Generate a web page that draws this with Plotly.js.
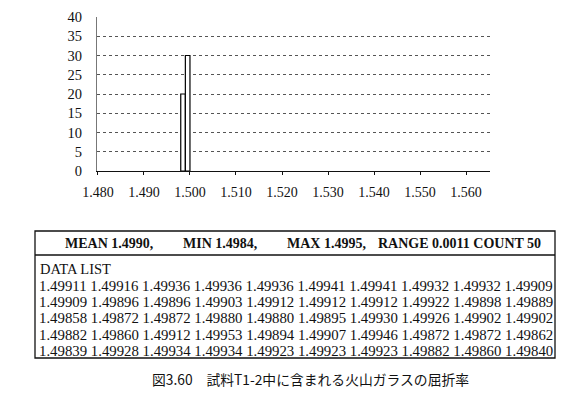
<!DOCTYPE html>
<html>
<head>
<meta charset="utf-8">
<script src="https://cdn.plot.ly/plotly-3.0.1.min.js"></script>
<style>
html,body{margin:0;padding:0;background:#fff;}
#chart{width:567px;height:399px;}
</style>
</head>
<body>
<div id="chart"></div>
<script>
// Histogram bins (bin centres) and counts
const binCenters = [1.4985, 1.4995];
const binCounts = [20, 30];
const binWidth = 0.001;

// Axis ticks
const yTicks = [0, 5, 10, 15, 20, 25, 30, 35, 40];
const xTicks = [1.480, 1.490, 1.500, 1.510, 1.520, 1.530, 1.540, 1.550, 1.560];

// Summary line
const statLabels = ["MEAN 1.4990,", "MIN 1.4984,", "MAX 1.4995,", "RANGE 0.0011 COUNT 50"];

// Data list
const dataList = [
  1.49911, 1.49916, 1.49936, 1.49936, 1.49936, 1.49941, 1.49941, 1.49932, 1.49932, 1.49909,
  1.49909, 1.49896, 1.49896, 1.49903, 1.49912, 1.49912, 1.49912, 1.49922, 1.49898, 1.49889,
  1.49858, 1.49872, 1.49872, 1.49880, 1.49880, 1.49895, 1.49930, 1.49926, 1.49902, 1.49902,
  1.49882, 1.49860, 1.49912, 1.49953, 1.49894, 1.49907, 1.49946, 1.49872, 1.49872, 1.49862,
  1.49839, 1.49928, 1.49934, 1.49934, 1.49923, 1.49923, 1.49923, 1.49882, 1.49860, 1.49840
];

const caption = "図3.60　試料T1-2中に含まれる火山ガラスの屈折率";

const W = 567, H = 399;
const serif = "Liberation Serif";

// helpers: paper coords from pixel coords
const mL = 97, mR = 77, mT = 17, mB = 228;
const pw = W - mL - mR, ph = H - mT - mB;
const px = x => (x - mL) / pw;
const py = y => (H - mB - y) / ph;

const annotations = [];
const shapes = [];

// table box
shapes.push({type: 'rect', xref: 'paper', yref: 'paper', x0: px(35), x1: px(555), y0: py(358), y1: py(231),
  line: {color: '#111', width: 1.3}, fillcolor: 'rgba(0,0,0,0)'});
shapes.push({type: 'line', xref: 'paper', yref: 'paper', x0: px(35), x1: px(555), y0: py(255), y1: py(255),
  line: {color: '#111', width: 1.3}});

// stats header
const statX = [63, 181, 285, 376];
statLabels.forEach((t, i) => {
  annotations.push({text: '<b>' + t + '</b>', xref: 'paper', yref: 'paper', x: px(statX[i]), y: py(243),
    xanchor: 'left', yanchor: 'middle', showarrow: false,
    font: {family: serif, size: 14, color: '#111'}});
});

annotations.push({text: 'DATA LIST', xref: 'paper', yref: 'paper', x: px(38), y: py(269),
  xanchor: 'left', yanchor: 'middle', showarrow: false,
  font: {family: serif, size: 14.5, color: '#111'}});

for (let r = 0; r < 5; r++) {
  const row = dataList.slice(r * 10, r * 10 + 10).map(v => v.toFixed(5)).join(' ');
  annotations.push({text: row, xref: 'paper', yref: 'paper', x: px(37), y: py(286 + r * 16.2),
    xanchor: 'left', yanchor: 'middle', showarrow: false,
    font: {family: serif, size: 14.8, color: '#111'}});
}

annotations.push({text: caption, xref: 'paper', yref: 'paper', x: px(310), y: py(379),
  xanchor: 'center', yanchor: 'middle', showarrow: false,
  font: {family: "Noto Sans CJK JP", size: 13.8, color: '#111'}});

const trace = {
  type: 'bar', x: binCenters, y: binCounts, width: binWidth,
  marker: {color: '#ffffff', line: {color: '#000', width: 1.2}},
  hoverinfo: 'none'
};

const layout = {
  width: W, height: H,
  margin: {l: mL, r: mR, t: mT, b: mB, pad: 0},
  paper_bgcolor: '#fff', plot_bgcolor: '#fff',
  showlegend: false,
  xaxis: {
    range: [1.4798, 1.5652], tickvals: xTicks, ticktext: xTicks.map(v => v.toFixed(3)),
    showgrid: false, zeroline: false, showline: true, linecolor: '#111', linewidth: 1,
    ticks: 'outside', ticklen: 3, tickcolor: '#111', ticklabelstandoff: 5,
    tickfont: {family: serif, size: 14, color: '#111'}, automargin: false
  },
  yaxis: {
    range: [0, 40], tickvals: yTicks, showgrid: true, gridcolor: '#555', griddash: 'dot', gridwidth: 1,
    zeroline: false, showline: true, linecolor: '#777', linewidth: 1, ticks: '',
    tickfont: {family: serif, size: 14.5, color: '#111'}, ticklabelstandoff: 11, automargin: false
  },
  shapes: shapes,
  annotations: annotations
};

Plotly.newPlot('chart', [trace], layout, {staticPlot: true, displayModeBar: false});
</script>
</body>
</html>
